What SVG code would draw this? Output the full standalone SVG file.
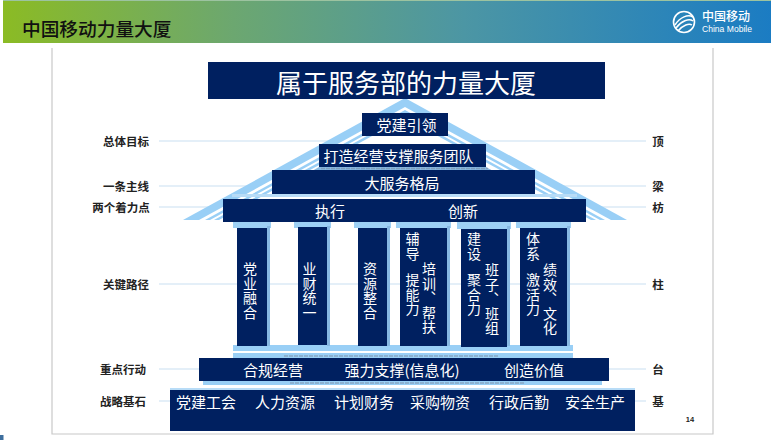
<svg xmlns="http://www.w3.org/2000/svg" width="771" height="440" viewBox="0 0 771 440">
<style>
text{font-family:"Noto Sans CJK SC","Noto Sans",sans-serif}
.box{fill:#002060}
.w{fill:#fff;text-anchor:middle;dominant-baseline:central}
.v{fill:#fff;writing-mode:vertical-rl;font-size:14px;letter-spacing:.5px}
.lab{fill:#222;font-size:11.5px;font-weight:700;text-anchor:middle;dominant-baseline:central}
.guide{stroke:#e4eff8;stroke-width:2}
.lb{fill:#99cff6}
.cap{fill:#9dd0f5}
.sh{fill:#86b8e2}
.tiny{stroke:#7d8ea3;stroke-width:1.500;stroke-dasharray:4 1;opacity:.6}
</style>
<defs>
<linearGradient id="hg" x1="0" x2="1" y1="0" y2="0">
<stop offset="0" stop-color="#8bbb24"/><stop offset=".3" stop-color="#6ca770"/><stop offset=".6" stop-color="#4c96a4"/><stop offset="1" stop-color="#1b7cc3"/>
</linearGradient>
</defs>
<rect width="771" height="440" fill="#fff"/>
<g id="header">
<rect x="3" y="0" width="768" height="43" fill="url(#hg)"/>
<rect x="3" y="0" width="768" height="1" fill="#9cc3a0"/>
<text x="22" y="27" font-size="18.7" font-weight="500" fill="#111" dominant-baseline="central">中国移动力量大厦</text>
<g id="logo" fill="none" stroke="#fff">
<circle cx="684" cy="22" r="10.500" stroke-width="1.600"/>
<path d="M675 25C680 17 688 14 693 17M676 28C681 21 689 18 693 21M678 31C683 25 689 23 692 25" stroke-width="1.500"/>
</g>
<text x="702" y="15" font-size="12" font-weight="500" fill="#fff" dominant-baseline="central">中国移动</text>
<text x="702" y="29" font-size="8.500" fill="#fff" textLength="50" lengthAdjust="spacingAndGlyphs" dominant-baseline="central" style="font-family:'Liberation Sans',sans-serif">China Mobile</text>
</g>
<rect x="0" y="435" width="3.500" height="5" fill="#3e6f9e"/>
<path id="frame" d="M52 48V434H713V48" fill="none" stroke="#c8c8c8" stroke-width="1.200"/>
<g id="guides">
<path class="guide" d="M159 141H646M159 186H646M159 207H646M159 284H646M159 369H646M159 401H646"/>
</g>
<g id="roof">
<polygon class="lb" points="405,98 627,220 183,220"/>
<polygon fill="#fff" points="405,107 611,220 199,220"/>
<polygon class="lb" points="405,110 605,220 205,220"/>
<polygon fill="#fff" points="405,113 600,220 210,220"/>
<polygon class="lb" points="405,115 596,220 214,220"/>
<polygon fill="#fff" points="405,118 591,220 219,220"/>
<polygon class="sh" points="486,167 535,194 272,194 319,167"/>
<rect x="232" y="194" width="345" height="3" fill="#b8dcf7"/>
<rect x="183" y="220" width="444" height="3" fill="#fff"/>
</g>
<g id="title"><rect class="box" x="208" y="62" width="397" height="37"/>
<text class="w" x="406" y="81" font-size="26">属于服务部的力量大厦</text></g>
<line class="tiny" x1="321" y1="168.500" x2="488" y2="168.500"/>
<g id="pillar-bases">
<rect x="233" y="345" width="340" height="6" class="lb"/>
<rect x="233" y="353" width="340" height="6" class="lb"/>
<rect x="203" y="370" width="399" height="15" class="lb"/>
<rect x="170" y="388" width="465" height="3" fill="#b8dcf7"/>
<path class="cap" d="M233 222h38v6h-38zM294 222h37v6h-37zM354 222h37v6h-37zM396 222h55v6h-55zM457 222h54v7h-54zM516 222h55v6h-55z"/>
<path class="sh" d="M267 226h3v120h-3zM327 226h3v120h-3zM387 226h3v120h-3zM447 226h3v120h-3zM507 226h3v120h-3zM567 226h3v120h-3z"/>
<line class="tiny" x1="284" y1="356" x2="498" y2="356"/>
<line class="tiny" x1="290" y1="383" x2="525" y2="383"/>
</g>
<g id="node-dangjian"><rect class="box" x="362" y="113" width="86" height="23"/><text class="w" x="406.500" y="124.500" font-size="15">党建引领</text></g>
<g id="node-team"><rect class="box" x="319" y="144" width="167" height="23"/><text class="w" x="398.500" y="155.500" font-size="15">打造经营支撑服务团队</text></g>
<g id="node-geju"><rect class="box" x="272" y="170" width="263" height="24"/><text class="w" x="402" y="182" font-size="15">大服务格局</text></g>
<g id="node-beam"><rect class="box" x="223" y="199" width="363" height="23"/><text class="w" x="330" y="210.500" font-size="15">执行</text><text class="w" x="463" y="210.500" font-size="15">创新</text></g>
<g id="pillar-1"><rect class="box" x="237" y="228" width="30" height="118"/><text class="v" x="250" y="262">党业融合</text></g>
<g id="pillar-2"><rect class="box" x="298" y="227" width="29" height="118"/><text class="v" x="309.500" y="262">业财统一</text></g>
<g id="pillar-3"><rect class="box" x="358" y="228" width="29" height="118"/><text class="v" x="370" y="262">资源整合</text></g>
<g id="pillar-4"><rect class="box" x="400" y="228" width="47" height="118"/><text class="v" x="412.500" y="232">辅导</text><text class="v" x="412.500" y="273">提能力</text><text class="v" x="429" y="262">培训、帮扶</text></g>
<g id="pillar-5"><rect class="box" x="461" y="229" width="46" height="118"/><text class="v" x="474" y="232">建设</text><text class="v" x="474" y="273">聚合力</text><text class="v" x="492" y="263">班子、班组</text></g>
<g id="pillar-6"><rect class="box" x="520" y="228" width="47" height="118"/><text class="v" x="533" y="232">体系</text><text class="v" x="533" y="273">激活力</text><text class="v" x="550" y="263">绩效、文化</text></g>
<g id="node-action"><rect class="box" x="199" y="358" width="410" height="23"/>
<text class="w" x="273" y="369.500" font-size="15">合规经营</text><text class="w" x="402" y="369.500" font-size="15">强力支撑(信息化)</text><text class="w" x="534" y="369.500" font-size="15">创造价值</text></g>
<g id="node-base"><rect class="box" x="170" y="390" width="465" height="41"/>
<text class="w" x="206" y="401.500" font-size="15">党建工会</text><text class="w" x="285" y="401.500" font-size="15">人力资源</text><text class="w" x="364" y="401.500" font-size="15">计划财务</text><text class="w" x="440" y="401.500" font-size="15">采购物资</text><text class="w" x="519" y="401.500" font-size="15">行政后勤</text><text class="w" x="595" y="401.500" font-size="15">安全生产</text></g>
<g id="labels-left">
<text class="lab" x="126" y="141">总体目标</text><text class="lab" x="126" y="186">一条主线</text><text class="lab" x="121" y="207">两个着力点</text><text class="lab" x="126" y="284">关键路径</text><text class="lab" x="123" y="369">重点行动</text><text class="lab" x="123" y="401">战略基石</text>
</g>
<g id="labels-right">
<text class="lab" x="658" y="141">顶</text><text class="lab" x="658" y="186">梁</text><text class="lab" x="658" y="207">枋</text><text class="lab" x="658" y="284">柱</text><text class="lab" x="658" y="369">台</text><text class="lab" x="658" y="401">基</text>
</g>
<text x="690" y="419" font-size="7.500" font-weight="700" fill="#222" text-anchor="middle" dominant-baseline="central" style="font-family:'Liberation Sans',sans-serif">14</text>
</svg>
